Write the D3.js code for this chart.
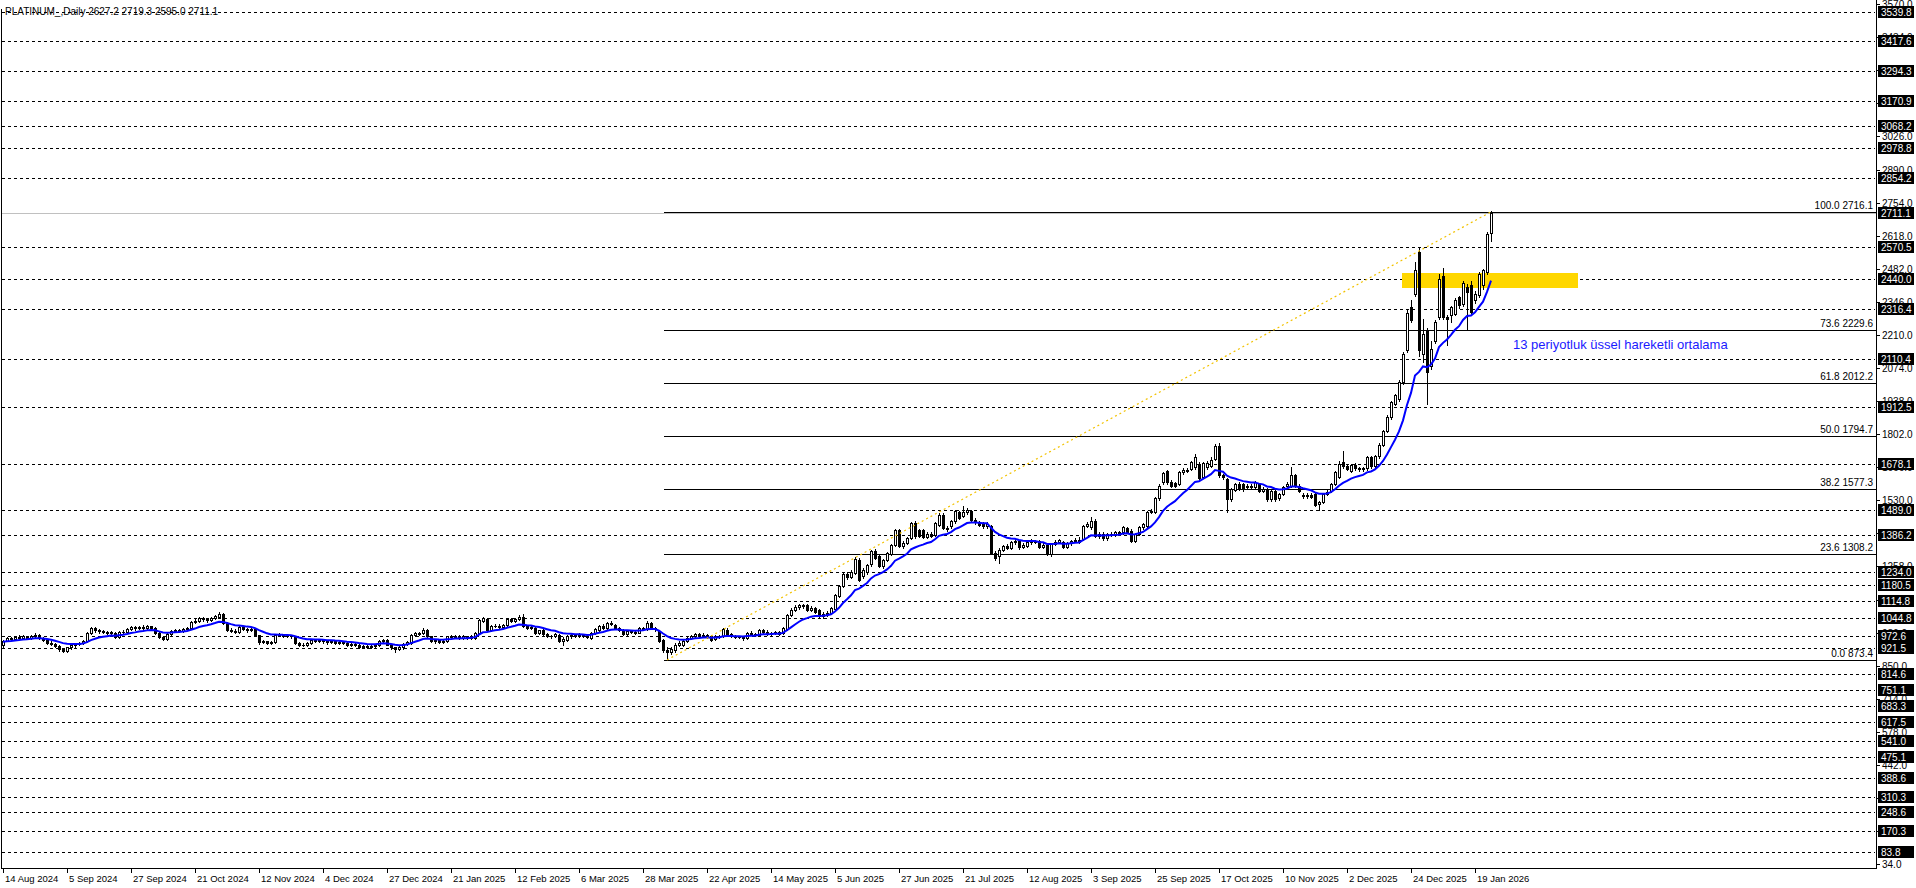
<!DOCTYPE html>
<html><head><meta charset="utf-8">
<script src="https://cdnjs.cloudflare.com/ajax/libs/d3/7.8.5/d3.min.js"></script>
<style>html,body{margin:0;padding:0;background:#fff;overflow:hidden}</style>
</head><body><svg id="c" width="1916" height="888"></svg>
<script>
// ---------------- DATA ----------------
const symbol = "PLATINUM_";
const period = "Daily";
const opens = [
934,953,962,960,968,965,970,964,972,976,
962,955,945,940,930,918,912,925,933,938,
942,950,983,1005,995,993,990,985,985,966,
988,990,1000,1008,1003,1010,1005,1012,1006,986,
966,960,980,992,996,993,1000,1005,1028,1033,
1046,1040,1036,1045,1050,1064,1026,998,992,988,
1008,1000,996,1001,975,946,950,944,946,978,
975,972,975,970,942,937,935,942,957,952,
955,950,946,952,945,948,942,936,940,934,
928,932,926,932,936,950,955,937,925,918,
925,940,944,978,984,984,996,971,950,955,
948,950,970,966,972,965,970,964,964,985,
1033,1042,998,1012,1015,1010,1019,1040,1032,1040,
1052,1014,1004,1006,986,995,980,972,970,978,
951,955,971,975,972,978,970,962,983,995,
1012,1006,1025,1018,1005,997,980,994,990,986,
1005,1000,1025,1005,992,955,914,908,914,937,
935,952,964,970,980,972,978,974,960,972,
970,998,980,970,966,968,964,985,980,976,
998,990,980,984,990,985,1001,1060,1080,1090,
1098,1098,1078,1086,1080,1053,1062,1068,1081,1138,
1177,1227,1215,1231,1286,1217,1234,1266,1320,1300,
1259,1285,1311,1348,1406,1341,1355,1375,1437,1406,
1409,1379,1393,1389,1430,1471,1416,1423,1444,1481,
1466,1481,1485,1451,1440,1437,1423,1423,1314,1300,
1327,1343,1332,1357,1364,1337,1343,1357,1362,1364,
1337,1346,1309,1350,1360,1357,1337,1354,1364,1368,
1371,1426,1419,1446,1385,1392,1374,1392,1388,1398,
1398,1415,1405,1364,1392,1419,1426,1483,1483,1538,
1604,1649,1604,1600,1597,1645,1656,1659,1666,1680,
1625,1666,1673,1700,1755,1632,1618,1535,1574,1597,
1597,1584,1590,1584,1597,1570,1577,1535,1570,1538,
1556,1590,1590,1632,1590,1552,1547,1552,1556,1515,
1525,1556,1570,1597,1625,1686,1670,1652,1675,1662,
1658,1662,1707,1673,1711,1758,1817,1872,1927,1947,
2018,2146,2324,2379,2551,2132,2228,2084,2183,2283,
2452,2283,2290,2297,2366,2338,2407,2414,2352,2375,
2414,2468,2627.2];
const highs = [
955,966,968,972,975,976,974,978,986,980,
966,958,950,943,934,922,928,936,942,946,
954,987,1010,1008,1000,996,994,993,988,992,
996,1005,1013,1014,1015,1016,1018,1015,1010,990,
970,984,996,1002,1002,1005,1010,1032,1040,1050,
1052,1046,1050,1058,1070,1066,1028,1003,1000,1012,
1012,1005,1008,1004,978,955,953,953,982,983,
978,980,978,974,946,942,946,960,960,960,
958,955,956,955,953,952,946,944,944,938,
936,935,936,940,955,960,958,940,928,930,
944,950,982,990,990,1003,1000,974,960,958,
957,974,975,976,975,975,973,976,988,1041,
1050,1045,1016,1020,1020,1022,1044,1044,1046,1058,
1062,1018,1012,1010,998,999,985,978,984,982,
966,975,980,980,983,982,975,988,1005,1016,
1020,1028,1034,1022,1008,1000,998,998,994,1009,
1010,1032,1030,1010,996,958,925,925,942,950,
955,968,975,985,986,983,982,978,976,976,
1004,1004,984,975,974,972,988,992,985,1002,
1002,995,988,994,994,1008,1064,1088,1098,1105,
1104,1104,1094,1090,1085,1070,1074,1092,1146,1182,
1232,1236,1242,1295,1292,1250,1268,1326,1328,1304,
1290,1318,1352,1414,1412,1362,1380,1442,1445,1412,
1414,1400,1398,1442,1476,1476,1424,1450,1490,1488,
1505,1500,1490,1456,1446,1442,1440,1428,1320,1335,
1348,1350,1362,1370,1368,1354,1362,1370,1368,1368,
1356,1352,1356,1366,1372,1362,1360,1368,1375,1378,
1430,1440,1463,1452,1398,1398,1396,1398,1402,1404,
1424,1420,1410,1396,1424,1438,1488,1496,1542,1596,
1648,1655,1612,1606,1650,1662,1664,1690,1721,1686,
1688,1690,1707,1760,1766,1640,1622,1582,1602,1604,
1602,1596,1596,1610,1602,1584,1582,1575,1575,1562,
1590,1604,1666,1638,1596,1558,1558,1558,1562,1528,
1562,1575,1602,1650,1690,1734,1676,1680,1682,1668,
1668,1712,1714,1716,1764,1820,1880,1940,1968,2025,
2140,2315,2355,2510,2571,2276,2240,2187,2270,2460,
2485,2290,2330,2362,2372,2432,2420,2430,2390,2470,
2480,2632,2719.3];
const lows = [
928,950,955,957,960,961,958,960,968,958,
950,940,935,925,912,905,908,920,928,933,
938,946,980,990,985,984,980,980,962,963,
984,986,996,998,1000,1000,1002,1000,982,962,
955,957,976,988,988,990,996,1000,1024,1028,
1035,1030,1032,1040,1046,1022,993,987,985,985,
995,990,992,970,940,942,940,940,942,970,
966,968,965,938,932,930,932,938,947,948,
945,940,942,940,940,938,932,930,930,924,
922,921,922,928,932,945,934,920,908,914,
920,936,940,974,976,980,968,946,945,943,
944,946,961,962,960,961,960,960,960,982,
1028,994,994,1008,1005,1006,1015,1028,1028,1036,
1010,1000,1000,982,982,976,968,965,966,948,
937,950,965,968,968,966,962,958,980,992,
1002,1002,1016,1000,993,976,976,985,982,983,
995,996,1000,994,946,905,873.4,900,908,930,
930,948,958,965,968,966,965,952,955,964,
966,976,966,962,962,956,960,975,972,972,
985,976,976,980,978,982,998,1055,1075,1085,
1088,1074,1073,1066,1048,1046,1055,1062,1078,1134,
1172,1208,1210,1226,1198,1210,1228,1260,1288,1254,
1252,1280,1306,1344,1336,1335,1350,1370,1377,1378,
1374,1374,1378,1384,1425,1410,1404,1418,1438,1452,
1460,1474,1446,1434,1424,1418,1416,1308,1285,1272,
1320,1330,1328,1350,1330,1332,1338,1352,1354,1332,
1332,1304,1299,1345,1354,1332,1332,1348,1358,1355,
1366,1420,1414,1380,1376,1368,1368,1382,1382,1388,
1392,1396,1360,1358,1386,1414,1420,1476,1478,1532,
1598,1598,1584,1584,1592,1640,1646,1654,1660,1616,
1620,1660,1668,1695,1626,1618,1481,1528,1568,1574,
1570,1578,1580,1578,1564,1564,1528,1528,1528,1530,
1550,1584,1584,1584,1564,1540,1540,1538,1505,1492,
1520,1550,1565,1592,1620,1664,1654,1646,1656,1650,
1652,1656,1664,1666,1705,1752,1810,1866,1920,1940,
2010,2140,2262,2372,2125,2098,1927,2070,2176,2276,
2276,2167,2262,2290,2320,2330,2235,2290,2340,2365,
2400,2460,2595.0];
const closes = [
953,962,960,968,965,970,964,972,978,962,
955,945,940,930,918,912,925,933,938,942,
950,983,1005,995,993,990,985,988,966,988,
990,1000,1008,1003,1010,1005,1012,1006,986,966,
960,980,992,996,993,1000,1005,1028,1033,1046,
1040,1036,1045,1053,1064,1026,998,992,990,1008,
1000,996,1002,975,946,950,944,948,978,975,
972,975,970,942,937,935,942,957,952,955,
950,946,952,945,948,942,936,940,934,928,
932,926,932,936,950,955,937,925,918,925,
940,946,978,984,982,998,971,950,955,948,
952,970,966,972,965,970,964,972,985,1037,
1046,998,1012,1015,1010,1018,1040,1032,1040,1052,
1014,1004,1008,986,995,980,972,970,980,951,
960,971,975,972,978,970,966,985,1001,1012,
1006,1025,1020,1005,997,980,994,990,986,1005,
999,1027,1005,1000,951,914,908,918,937,944,
952,964,970,980,972,978,970,955,972,968,
1000,980,970,966,970,962,985,980,976,998,
990,980,984,990,982,1005,1060,1080,1090,1098,
1096,1078,1088,1070,1053,1062,1068,1088,1142,1177,
1227,1215,1237,1289,1204,1245,1262,1320,1293,1259,
1285,1313,1348,1409,1341,1355,1375,1437,1382,1382,
1379,1393,1383,1437,1471,1416,1410,1444,1485,1458,
1481,1492,1451,1440,1430,1423,1434,1314,1293,1327,
1343,1335,1357,1362,1337,1348,1357,1362,1360,1337,
1348,1309,1350,1360,1366,1337,1354,1364,1368,1360,
1426,1433,1446,1385,1392,1374,1392,1388,1398,1394,
1419,1401,1364,1392,1419,1433,1483,1488,1538,1590,
1641,1604,1590,1590,1645,1656,1652,1686,1707,1621,
1682,1682,1697,1755,1632,1625,1535,1577,1597,1580,
1577,1590,1586,1604,1570,1577,1535,1570,1535,1556,
1584,1597,1634,1590,1570,1547,1552,1545,1511,1522,
1556,1565,1597,1645,1680,1670,1660,1675,1662,1658,
1662,1707,1670,1711,1758,1813,1874,1933,1961,2018,
2132,2300,2270,2475,2146,2215,2057,2153,2263,2441,
2283,2276,2324,2355,2335,2425,2386,2304,2379,2462,
2475,2626,2711.1];

const dateLabels = ["14 Aug 2024","5 Sep 2024","27 Sep 2024","21 Oct 2024","12 Nov 2024","4 Dec 2024",
  "27 Dec 2024","21 Jan 2025","12 Feb 2025","6 Mar 2025","28 Mar 2025","22 Apr 2025","14 May 2025",
  "5 Jun 2025","27 Jun 2025","21 Jul 2025","12 Aug 2025","3 Sep 2025","25 Sep 2025","17 Oct 2025",
  "10 Nov 2025","2 Dec 2025","24 Dec 2025","19 Jan 2026"];
const barsPerLabel = 16;

const priceTicks = [34,170,306,442,578,714,850,986,1122,1258,1394,1530,1666,1802,1938,2074,2210,
  2346,2482,2618,2754,2890,3026,3162,3298,3434,3570];

const hLevels = [3539.8,3417.6,3294.3,3170.9,3068.2,2978.8,2854.2,2570.5,2440.0,2316.4,2110.4,1912.5,
  1678.1,1489.0,1386.2,1234.0,1180.5,1114.8,1044.8,972.6,921.5,814.6,751.1,683.3,617.5,541.0,475.1,
  388.6,310.3,248.6,170.3,83.8];

const fibRatios = [0.0, 23.6, 38.2, 50.0, 61.8, 73.6, 100.0];
const fibPrices = [873.4, 1308.2, 1577.3, 1794.7, 2012.2, 2229.6, 2716.1];
const fibBars = [166, 372];

const zonePrices = [2403, 2463];
const zoneBars = [350, 394];

const emaPeriod = 13;
const emaSeed = 948;
const emaNote = "13 periyotluk üssel hareketli ortalama";

// ---------------- LAYOUT ----------------
const svg = d3.select("#c");
const FONT = "'Liberation Sans', Arial, sans-serif";
const axisX = 1876, frameBottom = 868;
const x = d3.scaleLinear().domain([0, 372]).range([3, 1491]);
const y = d3.scaleLinear().domain([34, 3570]).range([864.1, 4.2]);
const py = v => Math.round(y(v)) + 0.5;
const px = i => Math.round(x(i)) + 0.5;
const n = closes.length;
const last = n - 1;

svg.append("rect").attr("width",1916).attr("height",888).attr("fill","#fff");
const g = svg.append("g");

// dashed horizontal levels
g.selectAll("line.lvl").data(hLevels).join("line")
  .attr("x1", 2).attr("x2", axisX - 1)
  .attr("y1", d => py(d)).attr("y2", d => py(d))
  .attr("stroke", "#000").attr("stroke-width", 1).attr("stroke-dasharray", "3,3");

// bid line
g.append("line").attr("x1", 2).attr("x2", axisX).attr("y1", py(closes[last])).attr("y2", py(closes[last]))
  .attr("stroke", "#c0c0c0").attr("stroke-width", 1);

// yellow zone
g.append("rect")
  .attr("x", Math.round(x(zoneBars[0])) - 1).attr("width", Math.round(x(zoneBars[1]) - x(zoneBars[0])))
  .attr("y", Math.round(y(zonePrices[1]))).attr("height", Math.round(y(zonePrices[0]) - y(zonePrices[1])))
  .attr("fill", "#ffd700");

// fibonacci levels
const fx0 = Math.round(x(fibBars[0])) - 3;
g.selectAll("line.fib").data(fibPrices).join("line")
  .attr("x1", fx0).attr("x2", axisX)
  .attr("y1", d => py(d)).attr("y2", d => py(d))
  .attr("stroke", "#000").attr("stroke-width", 1);
g.selectAll("text.fib").data(fibPrices).join("text")
  .attr("x", axisX - 3).attr("y", d => Math.round(y(d)) - 3)
  .attr("text-anchor", "end").attr("font-family", FONT).attr("font-size", 10).attr("fill", "#000")
  .text((d, i) => fibRatios[i].toFixed(1) + " " + d.toFixed(1));

// candles
const idx = d3.range(n);
g.selectAll("line.wick").data(idx).join("line")
  .attr("x1", i => px(i)).attr("x2", i => px(i))
  .attr("y1", i => Math.round(y(highs[i]))).attr("y2", i => Math.round(y(lows[i])) + 1)
  .attr("stroke", "#000").attr("stroke-width", 1);
g.selectAll("rect.body").data(idx).join("rect")
  .attr("x", i => Math.round(x(i)) - 0.5)
  .attr("width", 2)
  .attr("y", i => Math.round(y(Math.max(opens[i], closes[i]))) + 0.5)
  .attr("height", i => Math.max(0.01, Math.round(y(Math.min(opens[i], closes[i]))) - Math.round(y(Math.max(opens[i], closes[i])))))
  .attr("fill", i => closes[i] >= opens[i] ? "#fff" : "#000")
  .attr("stroke", "#000").attr("stroke-width", 1);

// EMA
const alpha = 2 / (emaPeriod + 1);
const ema = [];
closes.forEach((c, i) => ema.push(i === 0 ? emaSeed : alpha * c + (1 - alpha) * ema[i - 1]));
g.append("path").datum(ema)
  .attr("d", d3.line().x((d, i) => x(i)).y(d => y(d)))
  .attr("fill", "none").attr("stroke", "#0000ff").attr("stroke-width", 2);

// fib trend line (dotted)
g.append("line")
  .attr("x1", x(fibBars[0])).attr("y1", y(fibPrices[0]))
  .attr("x2", x(fibBars[1])).attr("y2", y(fibPrices[fibPrices.length - 1]))
  .attr("stroke", "#f2c200").attr("stroke-width", 1.2).attr("stroke-dasharray", "2,3");

// EMA note
g.append("text").attr("x", 1513).attr("y", 349)
  .attr("font-family", FONT).attr("font-size", 13).attr("fill", "#1a1aff").text(emaNote);

// title
g.append("text").attr("x", 5).attr("y", 15)
  .attr("font-family", FONT).attr("font-size", 10).attr("fill", "#000")
  .text(symbol + "," + period + "  " + opens[last].toFixed(1) + " " + highs[last].toFixed(1) + " " + lows[last].toFixed(1) + " " + closes[last].toFixed(1));

// frame
g.append("line").attr("x1", 1.5).attr("x2", 1.5).attr("y1", 9).attr("y2", frameBottom + 0.5).attr("stroke", "#000");
g.append("line").attr("x1", 1).attr("x2", axisX + 0.5).attr("y1", frameBottom + 0.5).attr("y2", frameBottom + 0.5).attr("stroke", "#000");
g.append("line").attr("x1", axisX + 0.5).attr("x2", axisX + 0.5).attr("y1", 0).attr("y2", frameBottom + 1).attr("stroke", "#000");

// price ticks (labels are partly covered by the level boxes, as on the reference)
const boxLevels = hLevels.concat([closes[last]]);
const clip = svg.append("defs").append("clipPath").attr("id", "tickclip");
const boxTops = boxLevels.map(d => Math.round(y(d)) - 6).sort((a, b) => a - b);
let prev = 0;
boxTops.forEach(t => { if (t > prev) clip.append("rect").attr("x", axisX).attr("y", prev).attr("width", 40).attr("height", t - prev); prev = t + 12; });
clip.append("rect").attr("x", axisX).attr("y", prev).attr("width", 40).attr("height", 888 - prev);

g.selectAll("line.pt").data(priceTicks).join("line")
  .attr("x1", axisX).attr("x2", axisX + 4).attr("y1", d => py(d)).attr("y2", d => py(d)).attr("stroke", "#000");
g.append("g").attr("clip-path", "url(#tickclip)")
  .selectAll("text").data(priceTicks).join("text")
  .attr("x", axisX + 6).attr("y", d => Math.round(y(d)) + 4)
  .attr("font-family", FONT).attr("font-size", 10).attr("fill", "#000")
  .text(d => d.toFixed(1));

// level label boxes
g.selectAll("rect.lb").data(boxLevels).join("rect")
  .attr("x", axisX + 2).attr("y", d => Math.round(y(d)) - 6).attr("width", 36).attr("height", 12).attr("fill", "#000");
g.selectAll("text.lb").data(boxLevels).join("text")
  .attr("x", axisX + 5).attr("y", d => Math.round(y(d)) + 4)
  .attr("font-family", FONT).attr("font-size", 10).attr("fill", "#fff")
  .text(d => d.toFixed(1));

// date ticks
const dIdx = dateLabels.map((d, k) => k * barsPerLabel);
g.selectAll("line.dt").data(dIdx).join("line")
  .attr("x1", i => px(i)).attr("x2", i => px(i)).attr("y1", frameBottom).attr("y2", frameBottom + 5).attr("stroke", "#000");
g.selectAll("text.dt").data(dateLabels).join("text")
  .attr("x", (d, k) => Math.round(x(dIdx[k])) + 2).attr("y", 882)
  .attr("font-family", FONT).attr("font-size", 9.5).attr("fill", "#000")
  .text(d => d);
</script></body></html>
